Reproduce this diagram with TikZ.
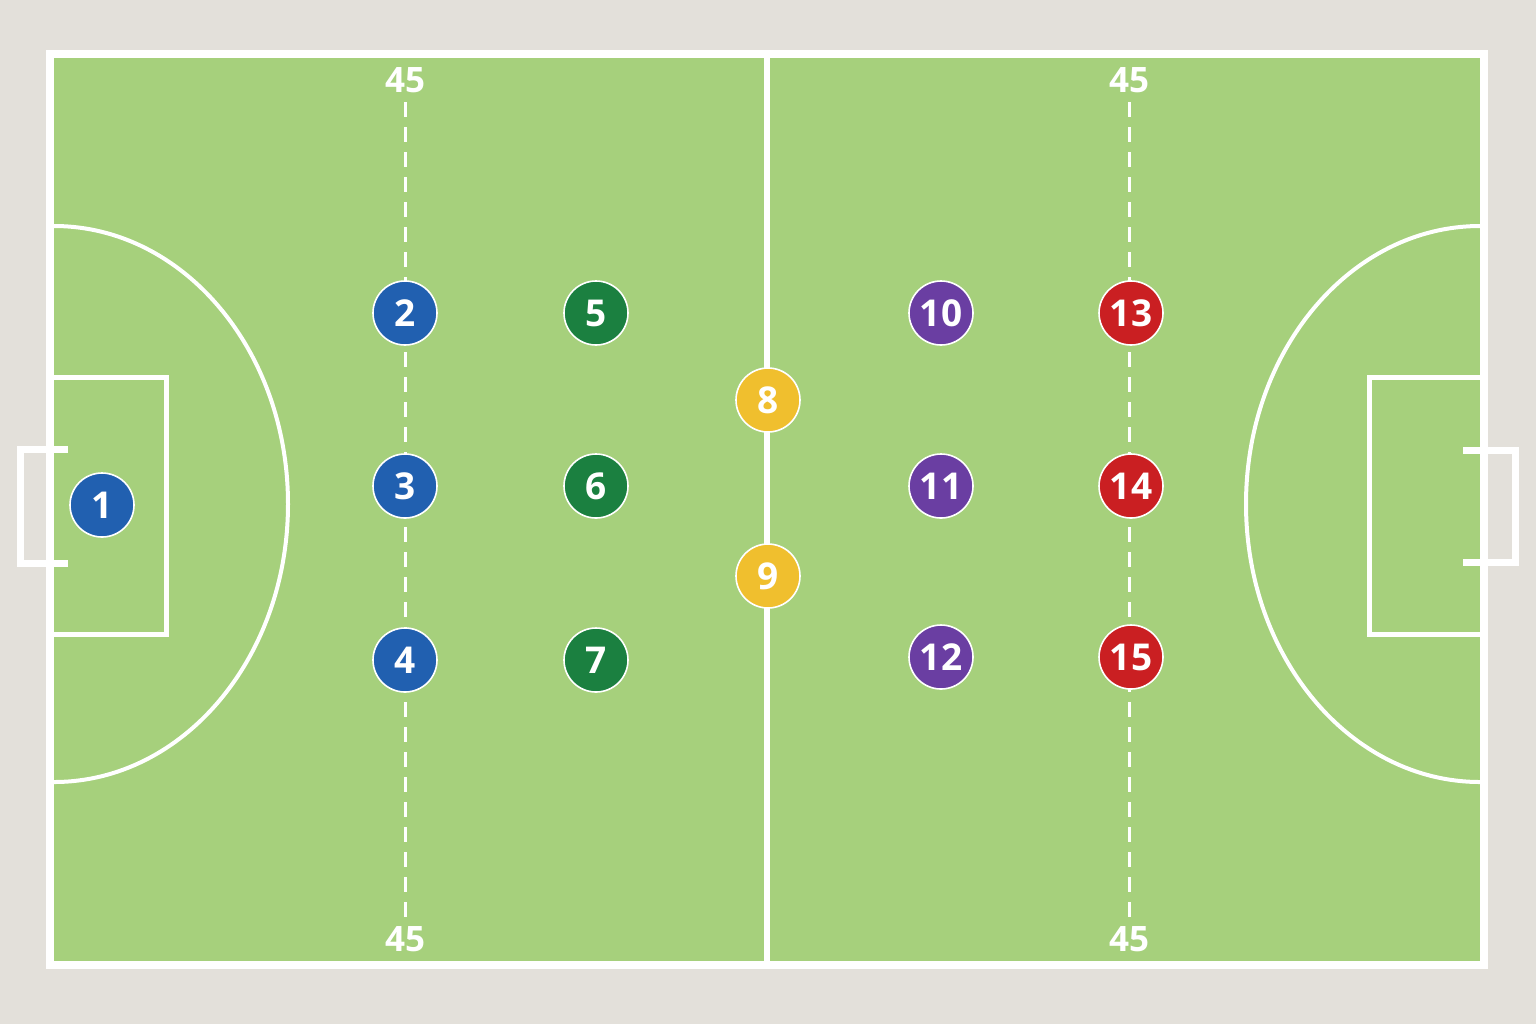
\documentclass[tikz,border=0pt]{standalone}
\usepackage{fontspec}
\setmainfont{Open Sans}
\definecolor{bgc}{HTML}{E3E0DA}
\definecolor{grass}{HTML}{A6D07C}
\definecolor{pblue}{HTML}{2160B0}
\definecolor{pgreen}{HTML}{1B8040}
\definecolor{pyellow}{HTML}{F0BF2E}
\definecolor{ppurple}{HTML}{6A3EA2}
\definecolor{pred}{HTML}{CA1F22}
\tikzset{
  player/.style={circle, minimum size=32pt, inner sep=0pt, draw=white, line width=0.8pt,
    text=white, font=\fontsize{18.5}{18.5}\selectfont\bfseries},
  marklabel/.style={text=white, font=\fontsize{17.5}{17.5}\selectfont\bfseries, inner sep=0pt},
  pitchline/.style={draw=white, line width=4pt},
  boxline/.style={draw=white, line width=2.5pt},
  arcline/.style={draw=white, line width=2pt},
  goalline/.style={draw=white, line width=3.5pt},
  fortyfive/.style={draw=white, line width=1.5pt, dash pattern=on 7.5pt off 5pt}
}
\begin{document}
\begin{tikzpicture}[x=0.5pt, y=-0.5pt]
\fill[bgc] (0,0) rectangle (1536,1024);
\useasboundingbox (0,0) rectangle (1536,1024);
% pitch
\fill[grass] (50,54) rectangle (1484,965);
% goals
\draw[goalline] (68,449) -- (20,449) -- (20,563) -- (68,563);
\draw[goalline] (1463,450) -- (1515,450) -- (1515,562) -- (1463,562);
% penalty boxes
\draw[boxline] (54,377) -- (166,377) -- (166,634) -- (54,634);
\draw[boxline] (1480,377) -- (1369,377) -- (1369,634) -- (1480,634);
% arcs
\draw[arcline] (54,226) arc[start angle=90, end angle=-90, x radius=117pt, y radius=139pt];
\draw[arcline] (1480,226) arc[start angle=90, end angle=270, x radius=117pt, y radius=139pt];
% halfway line
\coordinate (ht) at (767,58);
\coordinate (hb) at (767,961);
\draw[white, line width=3pt] (ht) -- (hb);
% outline
\draw[pitchline] (50,54) rectangle (1484,965);
% 45 lines
\coordinate (la) at (405,102);
\coordinate (lb) at (405,922);
\coordinate (ra) at (1129,102);
\coordinate (rb) at (1129,922);
\draw[fortyfive] (la) -- (lb);
\draw[fortyfive] (ra) -- (rb);
\node[marklabel] (t1) at (405,80) {45};
\node[marklabel] (b1) at (405,939) {45};
\node[marklabel] (t2) at (1129,80) {45};
\node[marklabel] (b2) at (1129,939) {45};
% players
\node[player, fill=pblue] (p1) at (102,505) {1};
\node[player, fill=pblue] (p2) at (405,313) {2};
\node[player, fill=pblue] (p3) at (405,486) {3};
\node[player, fill=pblue] (p4) at (405,660) {4};
\node[player, fill=pgreen] (p5) at (596,313) {5};
\node[player, fill=pgreen] (p6) at (596,486) {6};
\node[player, fill=pgreen] (p7) at (596,660) {7};
\node[player, fill=pyellow] (p8) at (768,400) {8};
\node[player, fill=pyellow] (p9) at (768,576) {9};
\node[player, fill=ppurple] (p10) at (941,313) {10};
\node[player, fill=ppurple] (p11) at (941,486) {11};
\node[player, fill=ppurple] (p12) at (941,657) {12};
\node[player, fill=pred] (p13) at (1131,313) {13};
\node[player, fill=pred] (p14) at (1131,486) {14};
\node[player, fill=pred] (p15) at (1131,657) {15};
\end{tikzpicture}
\end{document}
